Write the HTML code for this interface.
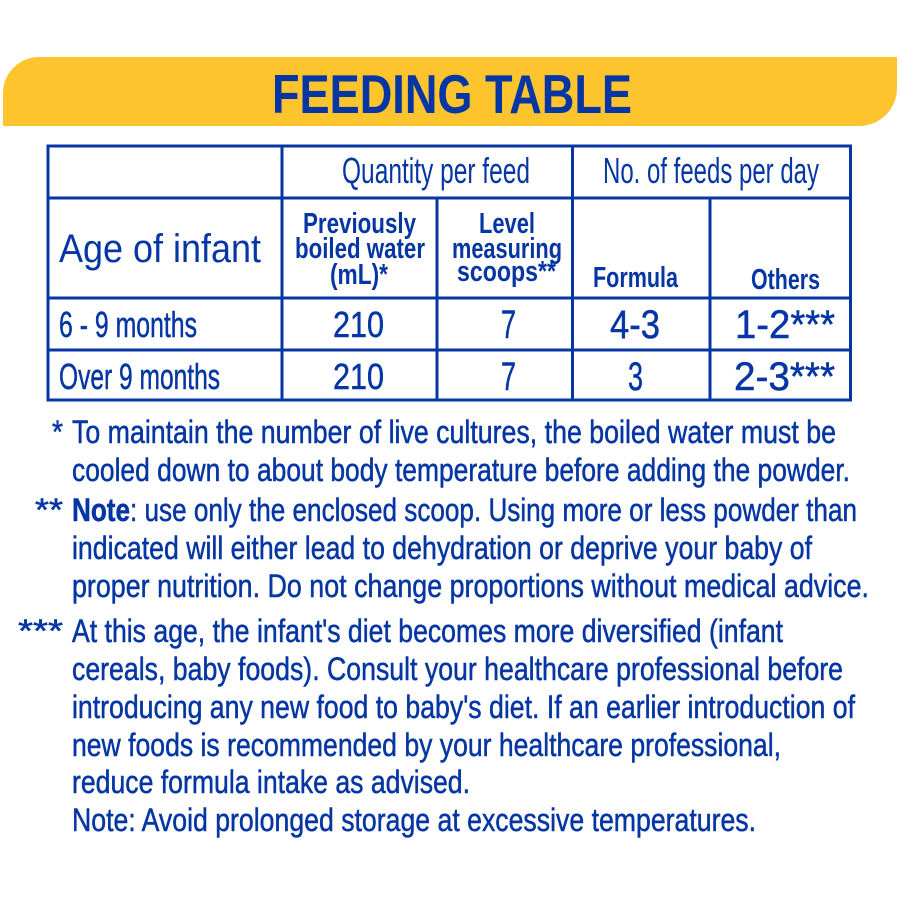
<!DOCTYPE html>
<html>
<head>
<meta charset="utf-8">
<style>
  html,body{margin:0;padding:0;background:#ffffff;}
  svg{display:block;}
  text{font-family:"Liberation Sans Narrow","Liberation Sans",sans-serif;fill:#0536a3;}
  .b{font-weight:bold;}
  .l{font-weight:normal;}
  .m{stroke:#0536a3;stroke-width:0.5;}
</style>
</head>
<body>
<svg width="900" height="900" viewBox="0 0 900 900" xmlns="http://www.w3.org/2000/svg">
  <rect x="0" y="0" width="900" height="900" fill="#ffffff"/>
  <!-- Banner -->
  <path d="M3,126 L3,93 A36,36 0 0 1 39,57 L897,57 L897,88 A38,38 0 0 1 859,126 Z" fill="#fdc42e"/>
  <text class="b" x="272" y="113" font-size="55" textLength="360" lengthAdjust="spacingAndGlyphs">FEEDING TABLE</text>

  <!-- Table lines -->
  <g stroke="#0536a3" stroke-width="3" fill="none">
    <rect x="48" y="146" width="802.5" height="254"/>
    <line x1="48" y1="198" x2="850.5" y2="198"/>
    <line x1="48" y1="298" x2="850.5" y2="298"/>
    <line x1="48" y1="350" x2="850.5" y2="350"/>
    <line x1="282" y1="146" x2="282" y2="400"/>
    <line x1="572.5" y1="146" x2="572.5" y2="400"/>
    <line x1="437" y1="198" x2="437" y2="400"/>
    <line x1="710" y1="198" x2="710" y2="400"/>
  </g>

  <!-- Header row 1 -->
  <text class="l" x="342" y="183" font-size="36" textLength="188" lengthAdjust="spacingAndGlyphs">Quantity per feed</text>
  <text class="l" x="603" y="183" font-size="36" textLength="216" lengthAdjust="spacingAndGlyphs">No. of feeds per day</text>

  <!-- Header row 2 -->
  <text class="l" x="59" y="262" font-size="40" textLength="202" lengthAdjust="spacingAndGlyphs">Age of infant</text>
  <text class="b" x="303" y="233" font-size="29" textLength="113" lengthAdjust="spacingAndGlyphs">Previously</text>
  <text class="b" x="295" y="258" font-size="29" textLength="130" lengthAdjust="spacingAndGlyphs">boiled water</text>
  <text class="b" x="330" y="284" font-size="29" textLength="58" lengthAdjust="spacingAndGlyphs">(mL)*</text>
  <text class="b" x="479" y="233" font-size="29" textLength="56" lengthAdjust="spacingAndGlyphs">Level</text>
  <text class="b" x="452" y="258" font-size="29" textLength="110" lengthAdjust="spacingAndGlyphs">measuring</text>
  <text class="b" x="457" y="281" font-size="29" textLength="99" lengthAdjust="spacingAndGlyphs">scoops**</text>
  <text class="b" x="593" y="287" font-size="29" textLength="85" lengthAdjust="spacingAndGlyphs">Formula</text>
  <text class="b" x="751" y="289" font-size="29" textLength="69" lengthAdjust="spacingAndGlyphs">Others</text>

  <!-- Data rows -->
  <g class="m">
  <text x="59" y="337" font-size="36" textLength="138" lengthAdjust="spacingAndGlyphs">6 - 9 months</text>
  <text x="333" y="337" font-size="36" textLength="51" lengthAdjust="spacingAndGlyphs">210</text>
  <text x="501" y="338" font-size="40" textLength="15" lengthAdjust="spacingAndGlyphs">7</text>
  <text x="610" y="338" font-size="40" textLength="50" lengthAdjust="spacingAndGlyphs">4-3</text>
  <text x="735" y="338" font-size="40" textLength="100" lengthAdjust="spacingAndGlyphs">1-2***</text>

  <text x="59" y="389" font-size="36" textLength="161" lengthAdjust="spacingAndGlyphs">Over 9 months</text>
  <text x="333" y="389" font-size="36" textLength="51" lengthAdjust="spacingAndGlyphs">210</text>
  <text x="501" y="390" font-size="40" textLength="15" lengthAdjust="spacingAndGlyphs">7</text>
  <text x="628" y="390" font-size="40" textLength="15" lengthAdjust="spacingAndGlyphs">3</text>
  <text x="734" y="390" font-size="40" textLength="101" lengthAdjust="spacingAndGlyphs">2-3***</text>
  </g>

  <!-- Footnotes -->
  <g font-size="32" class="m">
    <text x="52" y="443" textLength="11" lengthAdjust="spacingAndGlyphs">*</text>
    <text x="72" y="443" textLength="764" lengthAdjust="spacingAndGlyphs">To maintain the number of live cultures, the boiled water must be</text>
    <text x="72" y="481" textLength="778" lengthAdjust="spacingAndGlyphs">cooled down to about body temperature before adding the powder.</text>

    <text x="35" y="521" textLength="28" lengthAdjust="spacingAndGlyphs">**</text>
    <text x="72" y="521" textLength="785" lengthAdjust="spacingAndGlyphs"><tspan class="b">Note</tspan>: use only the enclosed scoop. Using more or less powder than</text>
    <text x="72" y="559" textLength="740" lengthAdjust="spacingAndGlyphs">indicated will either lead to dehydration or deprive your baby of</text>
    <text x="72" y="597" textLength="797" lengthAdjust="spacingAndGlyphs">proper nutrition. Do not change proportions without medical advice.</text>

    <text x="18" y="642" textLength="45" lengthAdjust="spacingAndGlyphs">***</text>
    <text x="72" y="642" textLength="711" lengthAdjust="spacingAndGlyphs">At this age, the infant's diet becomes more diversified (infant</text>
    <text x="72" y="680" textLength="771" lengthAdjust="spacingAndGlyphs">cereals, baby foods). Consult your healthcare professional before</text>
    <text x="72" y="718" textLength="783" lengthAdjust="spacingAndGlyphs">introducing any new food to baby's diet. If an earlier introduction of</text>
    <text x="72" y="756" textLength="709" lengthAdjust="spacingAndGlyphs">new foods is recommended by your healthcare professional,</text>
    <text x="72" y="793" textLength="398" lengthAdjust="spacingAndGlyphs">reduce formula intake as advised.</text>
    <text x="72" y="831" textLength="684" lengthAdjust="spacingAndGlyphs">Note: Avoid prolonged storage at excessive temperatures.</text>
  </g>
</svg>
</body>
</html>
